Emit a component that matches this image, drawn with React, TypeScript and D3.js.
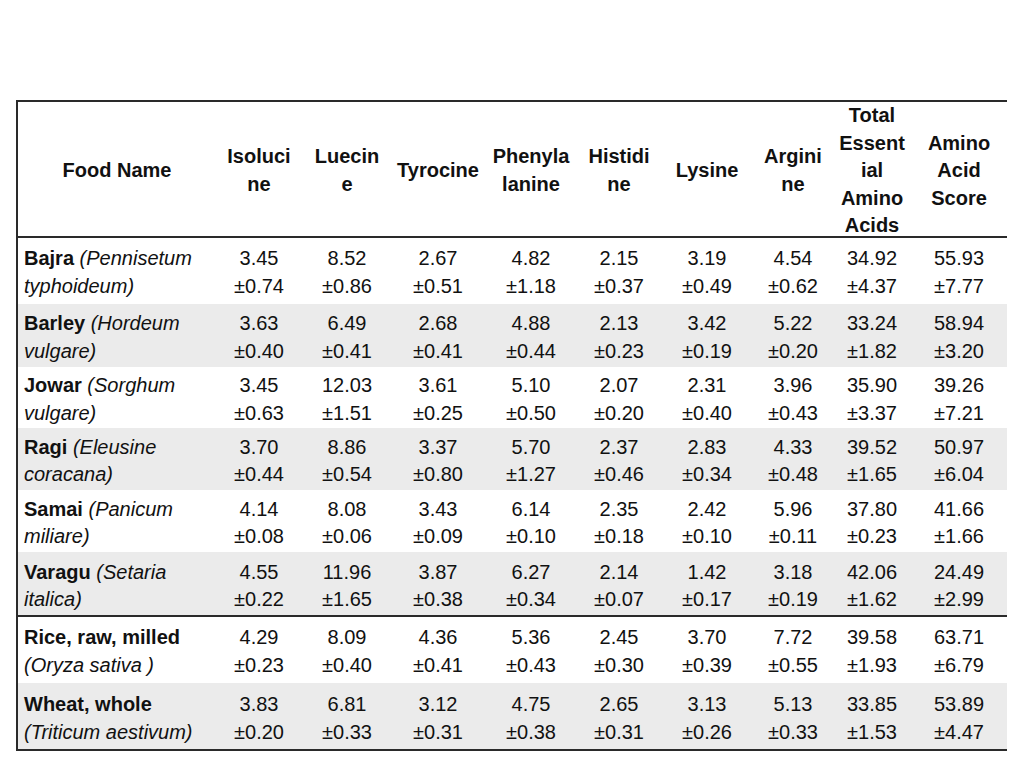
import React from "react";
import * as d3 from "d3";

const headers: string[][] = [
  ["Food Name"],
  ["Isoluci", "ne"],
  ["Luecin", "e"],
  ["Tyrocine"],
  ["Phenyla", "lanine"],
  ["Histidi", "ne"],
  ["Lysine"],
  ["Argini", "ne"],
  ["Total", "Essent", "ial", "Amino", "Acids"],
  ["Amino", "Acid", "Score"],
];

const foodBold: string[] = ["Bajra", "Barley", "Jowar", "Ragi", "Samai", "Varagu", "Rice, raw, milled", "Wheat, whole"];
const foodLine1Italic: string[] = ["(Pennisetum", "(Hordeum", "(Sorghum", "(Eleusine", "(Panicum", "(Setaria", "", ""];
const foodLine2Italic: string[] = ["typhoideum)", "vulgare)", "vulgare)", "coracana)", "miliare)", "italica)", "(Oryza sativa )", "(Triticum aestivum)"];

const means: string[][] = [
  ["3.45", "8.52", "2.67", "4.82", "2.15", "3.19", "4.54", "34.92", "55.93"],
  ["3.63", "6.49", "2.68", "4.88", "2.13", "3.42", "5.22", "33.24", "58.94"],
  ["3.45", "12.03", "3.61", "5.10", "2.07", "2.31", "3.96", "35.90", "39.26"],
  ["3.70", "8.86", "3.37", "5.70", "2.37", "2.83", "4.33", "39.52", "50.97"],
  ["4.14", "8.08", "3.43", "6.14", "2.35", "2.42", "5.96", "37.80", "41.66"],
  ["4.55", "11.96", "3.87", "6.27", "2.14", "1.42", "3.18", "42.06", "24.49"],
  ["4.29", "8.09", "4.36", "5.36", "2.45", "3.70", "7.72", "39.58", "63.71"],
  ["3.83", "6.81", "3.12", "4.75", "2.65", "3.13", "5.13", "33.85", "53.89"],
];

const sds: string[][] = [
  ["0.74", "0.86", "0.51", "1.18", "0.37", "0.49", "0.62", "4.37", "7.77"],
  ["0.40", "0.41", "0.41", "0.44", "0.23", "0.19", "0.20", "1.82", "3.20"],
  ["0.63", "1.51", "0.25", "0.50", "0.20", "0.40", "0.43", "3.37", "7.21"],
  ["0.44", "0.54", "0.80", "1.27", "0.46", "0.34", "0.48", "1.65", "6.04"],
  ["0.08", "0.06", "0.09", "0.10", "0.18", "0.10", "0.11", "0.23", "1.66"],
  ["0.22", "1.65", "0.38", "0.34", "0.07", "0.17", "0.19", "1.62", "2.99"],
  ["0.23", "0.40", "0.41", "0.43", "0.30", "0.39", "0.55", "1.93", "6.79"],
  ["0.20", "0.33", "0.31", "0.38", "0.31", "0.26", "0.33", "1.53", "4.47"],
];

// layout
const colCenters = [117, 259, 347, 438, 531, 619, 707, 793, 872, 959];
const rowEdges = [237, 304, 367, 428, 490, 552, 616, 683, 750];

export default function App() {
  const left = 17;
  const right = 1007;
  const top = 101;
  const headBottom = 237;
  const bottom = 750;
  const fs = 20;
  const lh = 27.5;
  const font = "'Liberation Sans', Arial, Helvetica, sans-serif";

  const xCol = d3.scaleOrdinal<number, number>().domain(d3.range(colCenters.length)).range(colCenters);
  const yTop = d3.scaleOrdinal<number, number>().domain(d3.range(foodBold.length)).range(rowEdges.slice(0, -1));
  const yBot = d3.scaleOrdinal<number, number>().domain(d3.range(foodBold.length)).range(rowEdges.slice(1));

  const headMid = (top + headBottom) / 2 + 1;
  const shade = "#ebebeb";
  const lineColor = "#2a2a2a";

  return (
    <svg width={1024} height={768} style={{ position: "absolute", left: 0, top: 0, display: "block", background: "#fff" }} fontFamily={font}>
      {foodBold.map((_, i) =>
        i % 2 === 1 ? (
          <rect key={"s" + i} x={left} y={yTop(i)} width={right - left} height={yBot(i) - yTop(i)} fill={shade} />
        ) : null
      )}

      {headers.map((lines, c) => (
        <text key={"h" + c} x={xCol(c)} textAnchor="middle" fontWeight="bold" fontSize={fs} fill="#111">
          {lines.map((ln, k) => (
            <tspan key={k} x={xCol(c)} y={headMid + (k - (lines.length - 1) / 2) * lh} dominantBaseline="central">
              {ln}
            </tspan>
          ))}
        </text>
      ))}

      {foodBold.map((name, r) => {
        const mid = (yTop(r) + yBot(r)) / 2 + 1.5;
        const y1 = mid - lh / 2;
        const y2 = mid + lh / 2;
        return (
          <g key={"r" + r}>
            <text x={24} y={y1} dominantBaseline="central" fontSize={fs} fill="#111">
              <tspan fontWeight="bold">{name}</tspan>
              {foodLine1Italic[r] ? <tspan fontStyle="italic">{" " + foodLine1Italic[r]}</tspan> : null}
            </text>
            <text x={24} y={y2} dominantBaseline="central" fontSize={fs} fontStyle="italic" fill="#111">
              {foodLine2Italic[r]}
            </text>
            {means[r].map((m, c) => (
              <g key={c}>
                <text x={xCol(c + 1)} y={y1} textAnchor="middle" dominantBaseline="central" fontSize={fs} fill="#111">
                  {m}
                </text>
                <text x={xCol(c + 1)} y={y2} textAnchor="middle" dominantBaseline="central" fontSize={fs} fill="#111">
                  {"±" + sds[r][c]}
                </text>
              </g>
            ))}
          </g>
        );
      })}

      <line x1={left} x2={right} y1={top} y2={top} stroke={lineColor} strokeWidth={2} />
      <line x1={left} x2={right} y1={headBottom} y2={headBottom} stroke={lineColor} strokeWidth={2} />
      <line x1={left} x2={right} y1={rowEdges[6]} y2={rowEdges[6]} stroke={lineColor} strokeWidth={2} />
      <line x1={left} x2={right} y1={bottom} y2={bottom} stroke={lineColor} strokeWidth={2} />
      <line x1={left} x2={left} y1={top - 1} y2={bottom + 1} stroke={lineColor} strokeWidth={2} />
    </svg>
  );
}
